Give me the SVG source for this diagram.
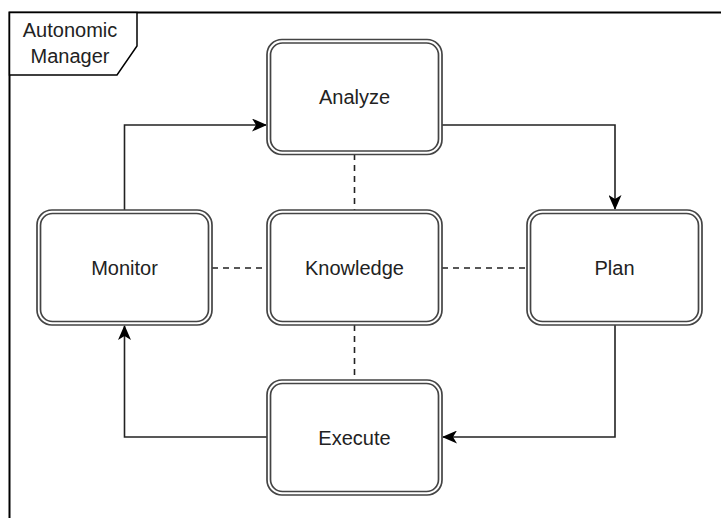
<svg xmlns="http://www.w3.org/2000/svg" width="721" height="518" viewBox="0 0 721 518">
  <style>
    .frame { fill: none; stroke: #000; stroke-width: 2; }
    .tab { fill: #fff; stroke: #000; stroke-width: 1.5; }
    .outer { fill: #fff; stroke: #444; stroke-width: 1.7; }
    .inner { fill: none; stroke: #444; stroke-width: 1.7; }
    .label { font-family: "Liberation Sans", Arial, sans-serif; font-size: 20px; fill: #222; text-anchor: middle; dominant-baseline: central; }
    .flow { fill: none; stroke: #222; stroke-width: 1.6; }
    .link { fill: none; stroke: #222; stroke-width: 1.6; stroke-dasharray: 6 5; }
  </style>
  <defs>
    <marker id="arrow" viewBox="0 0 15 13" refX="14" refY="6.5" markerWidth="15" markerHeight="13" markerUnits="userSpaceOnUse" orient="auto">
      <path d="M0,0 L15,6.5 L0,13 L4,6.5 Z" fill="#000"/>
    </marker>
  </defs>

  <!-- enclosing frame with its name tab -->
  <g id="frame">
    <rect class="frame" x="9.5" y="12.5" width="720" height="520"/>
    <polygon class="tab" points="9.5,12.5 137,12.5 137,46 117,75 9.5,75"/>
    <text class="label" x="70" y="30">Autonomic</text>
    <text class="label" x="70" y="56">Manager</text>
  </g>

  <!-- connectors -->
  <g id="connectors">
    <path class="flow" d="M124.5,210 V125 H266" marker-end="url(#arrow)"/>
    <path class="flow" d="M442,125 H615 V209" marker-end="url(#arrow)"/>
    <path class="flow" d="M615,325 V437 H443" marker-end="url(#arrow)"/>
    <path class="flow" d="M267,437 H124.5 V326" marker-end="url(#arrow)"/>
    <path class="link" d="M354.5,154 V210"/>
    <path class="link" d="M354.5,325 V380"/>
    <path class="link" d="M212,268 H267"/>
    <path class="link" d="M442,268 H527"/>
  </g>

  <g id="analyze">
    <rect class="outer" x="267" y="39.5" width="175" height="115" rx="15"/>
    <rect class="inner" x="270.5" y="43" width="168" height="108" rx="12"/>
    <text class="label" x="354.5" y="97">Analyze</text>
  </g>

  <g id="monitor">
    <rect class="outer" x="37" y="210" width="175" height="115" rx="15"/>
    <rect class="inner" x="40.5" y="213.5" width="168" height="108" rx="12"/>
    <text class="label" x="124.5" y="268">Monitor</text>
  </g>

  <g id="knowledge">
    <rect class="outer" x="267" y="210" width="175" height="115" rx="15"/>
    <rect class="inner" x="270.5" y="213.5" width="168" height="108" rx="12"/>
    <text class="label" x="354.5" y="268">Knowledge</text>
  </g>

  <g id="plan">
    <rect class="outer" x="527" y="210" width="175" height="115" rx="15"/>
    <rect class="inner" x="530.5" y="213.5" width="168" height="108" rx="12"/>
    <text class="label" x="614.5" y="268">Plan</text>
  </g>

  <g id="execute">
    <rect class="outer" x="267" y="380" width="175" height="115" rx="15"/>
    <rect class="inner" x="270.5" y="383.5" width="168" height="108" rx="12"/>
    <text class="label" x="354.5" y="438">Execute</text>
  </g>
</svg>
